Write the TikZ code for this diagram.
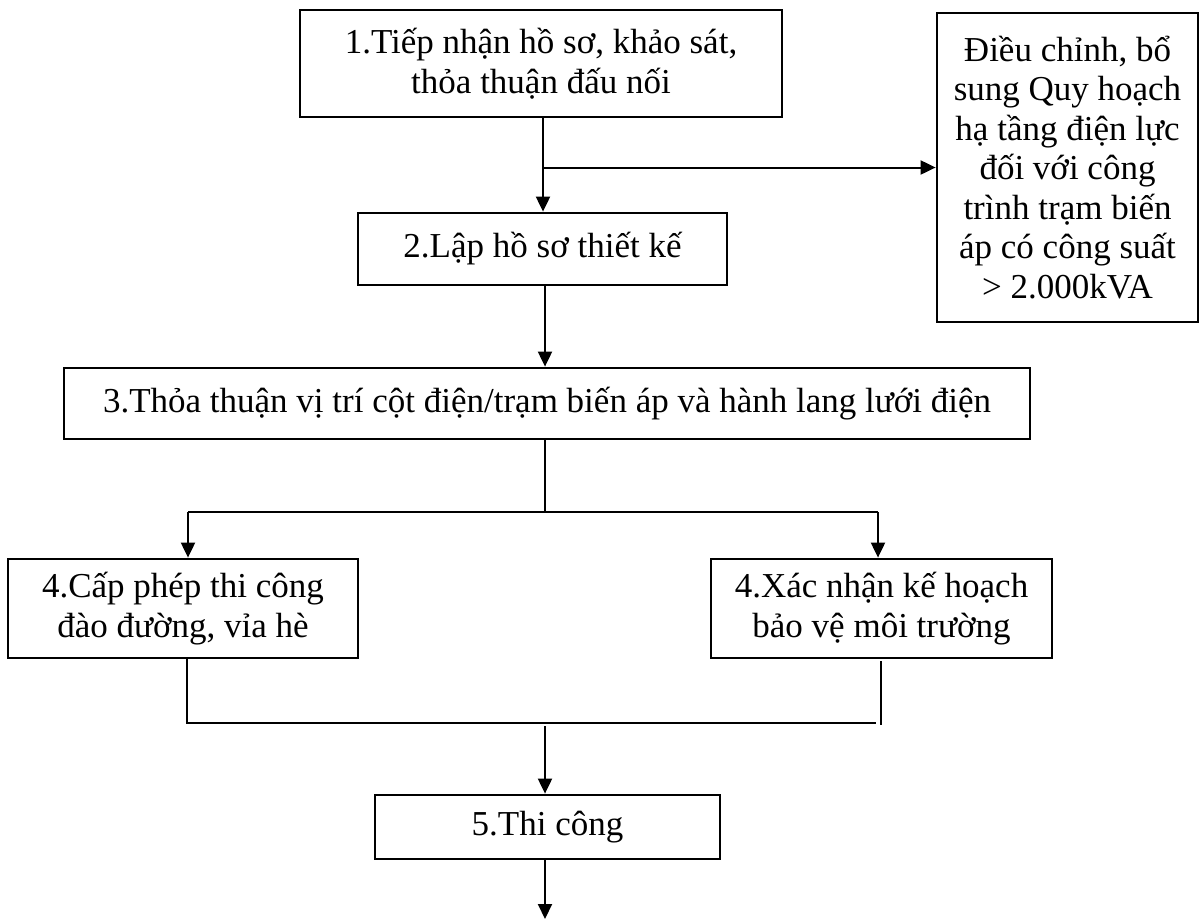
\documentclass[tikz,border=0pt]{standalone}
\usepackage{fontspec}
\setmainfont{Liberation Serif}
\usetikzlibrary{arrows.meta,calc}
\tikzset{
  boxnode/.style={draw=black,line width=2.8pt,rectangle,inner sep=0pt,align=center,
    font=\fontsize{35}{39.5}\selectfont},
  conn/.style={line width=2pt,draw=black},
  arr/.style={conn,-{Triangle[length=15pt,width=14pt]}}
}
\begin{document}
\begin{tikzpicture}[x=1pt,y=-1pt]
\useasboundingbox (0,0) rectangle (1202,919);
\node[boxnode,minimum width=482pt,minimum height=107pt] (b1) at (541,63.5) {1.Tiếp nhận hồ sơ, khảo sát,\\thỏa thuận đấu nối};
\node[boxnode,minimum width=369pt,minimum height=72pt] (b2) at (542.5,249) {2.Lập hồ sơ thiết kế};
\node[boxnode,minimum width=261pt,minimum height=309pt] (r) at (1067.5,167.5) {Điều chỉnh, bổ\\sung Quy hoạch\\hạ tầng điện lực\\đối với công\\trình trạm biến\\áp có công suất\\> 2.000kVA};
\node[boxnode,minimum width=966pt,minimum height=71pt] (b3) at (547,403.5) {3.Thỏa thuận vị trí cột điện/trạm biến áp và hành lang lưới điện};
\node[boxnode,minimum width=350pt,minimum height=99pt] (b4l) at (183,608.5) {4.Cấp phép thi công\\đào đường, vỉa hè};
\node[boxnode,minimum width=341pt,minimum height=99pt] (b4r) at (881.5,608.5) {4.Xác nhận kế hoạch\\bảo vệ môi trường};
\node[boxnode,minimum width=345pt,minimum height=64pt] (b5) at (547.5,827) {5.Thi công};
% coordinates
\coordinate (t1) at (543,0);
\coordinate (s3) at (545,0);
\coordinate (brl) at (188,512);
\coordinate (brr) at (878,512);
\coordinate (jl) at (187,723);
\coordinate (jr) at (876,723);
\coordinate (vr) at (881,661);
\coordinate (vr2) at (881,725);
\coordinate (m5) at (545,726);
\coordinate (endp) at (545,919);
% connectors
\draw[arr] (t1 |- b1.south) -- (t1 |- b2.north);
\draw[arr] (t1 |- r.west) -- (r.west);
\draw[arr] (s3 |- b2.south) -- (s3 |- b3.north);
\draw[conn] (s3 |- b3.south) -- (s3 |- brl);
\draw[conn] (brl) -- (brr);
\draw[arr] (brl) -- (brl |- b4l.north);
\draw[arr] (brr) -- (brr |- b4r.north);
\draw[conn] (jl |- b4l.south) -- (jl) -- (jr);
\draw[conn] (vr) -- (vr2);
\draw[arr] (m5) -- (m5 |- b5.north);
\draw[arr] (m5 |- b5.south) -- (endp);
\end{tikzpicture}
\end{document}
